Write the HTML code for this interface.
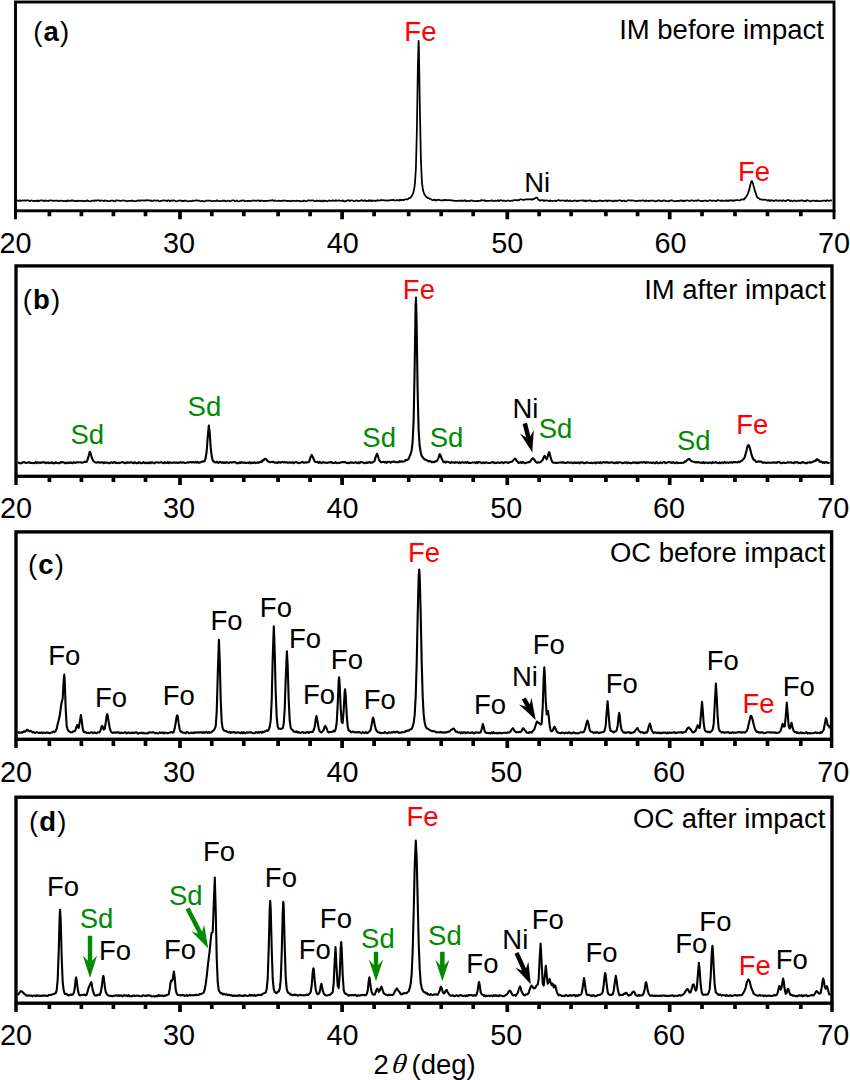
<!DOCTYPE html>
<html><head><meta charset="utf-8"><style>
html,body{margin:0;padding:0;background:#fff;overflow:hidden;}
svg{display:block}
text{font-family:"Liberation Sans",sans-serif;font-size:27.5px;}
</style></head><body>
<svg width="850" height="1080" viewBox="0 0 850 1080">

<g>
<path d="M16.9 200.6 L17.9 200.4 L18.9 201.0 L19.9 200.3 L20.9 200.8 L21.9 200.7 L22.9 200.3 L23.9 200.8 L24.9 200.3 L25.9 200.7 L26.9 200.3 L27.9 200.3 L28.9 200.7 L29.9 201.2 L30.9 200.4 L31.9 200.5 L33.0 200.9 L34.0 201.3 L35.0 200.9 L36.0 200.7 L37.0 201.3 L38.0 200.3 L39.0 201.2 L40.0 200.6 L41.0 200.4 L42.0 200.4 L43.0 200.6 L44.0 201.1 L45.0 200.4 L46.0 200.9 L47.0 201.0 L48.0 200.7 L49.0 200.9 L50.0 200.3 L51.0 200.3 L52.0 200.5 L53.0 201.0 L54.0 200.7 L55.0 200.6 L56.0 200.9 L57.0 200.7 L58.0 200.6 L59.0 201.1 L60.0 201.0 L61.0 200.5 L62.0 200.9 L63.0 200.8 L64.0 201.2 L65.0 201.1 L66.0 200.6 L67.0 201.3 L68.0 200.4 L69.0 200.7 L70.0 201.1 L71.0 200.4 L72.0 200.8 L73.0 200.3 L74.0 201.0 L75.0 201.1 L76.0 200.9 L77.0 201.2 L78.0 200.6 L79.0 201.0 L80.0 200.9 L81.0 200.9 L82.0 200.7 L83.0 201.2 L84.0 201.3 L85.0 200.8 L86.0 201.0 L87.0 200.3 L88.0 201.0 L89.0 201.0 L90.0 201.3 L91.0 201.2 L92.0 200.6 L93.0 200.7 L94.0 201.0 L95.0 200.3 L96.0 200.8 L97.0 200.4 L98.0 200.4 L99.0 200.3 L100.0 201.1 L101.0 200.4 L102.0 200.5 L103.0 200.7 L104.0 201.2 L105.0 200.3 L106.0 200.7 L107.0 200.9 L108.0 201.2 L109.0 201.1 L110.0 201.2 L111.0 200.6 L112.0 200.7 L113.0 200.6 L114.0 201.2 L115.0 201.3 L116.0 200.4 L117.0 200.4 L118.0 200.5 L119.0 200.5 L120.0 200.8 L121.0 200.9 L122.0 200.5 L123.0 200.3 L124.0 200.7 L125.0 200.7 L126.0 200.9 L127.0 201.3 L128.0 201.0 L128.9 200.8 L129.9 200.9 L130.9 201.0 L131.9 200.3 L132.9 201.2 L133.9 201.1 L134.9 201.2 L135.9 201.1 L136.9 200.7 L137.9 200.7 L138.9 200.4 L139.9 200.9 L140.9 200.3 L141.9 200.3 L142.9 200.5 L143.9 200.4 L144.9 200.6 L145.9 200.3 L146.9 200.2 L147.9 200.4 L148.9 200.4 L149.9 200.6 L150.9 200.3 L151.9 201.2 L152.9 200.9 L153.9 200.4 L154.9 200.5 L155.9 200.6 L156.9 200.6 L157.9 200.4 L158.9 201.2 L159.9 201.3 L160.9 200.8 L161.9 200.8 L162.9 200.3 L163.9 200.4 L164.9 200.6 L165.9 200.5 L166.9 201.2 L167.9 200.4 L168.9 200.3 L169.9 201.3 L170.9 200.8 L171.9 200.4 L172.9 200.8 L173.9 200.3 L174.9 200.8 L175.9 201.3 L176.9 201.2 L177.9 201.0 L178.9 200.5 L179.9 200.6 L180.9 200.4 L181.9 201.1 L182.9 200.8 L183.9 201.1 L184.9 200.6 L185.9 200.5 L186.9 201.1 L187.9 201.3 L188.9 201.2 L189.9 201.1 L190.9 201.1 L191.9 201.1 L192.9 200.5 L193.9 200.8 L194.9 200.6 L195.9 200.3 L196.9 200.3 L197.9 200.6 L198.9 200.5 L199.9 201.0 L200.9 201.3 L201.9 200.7 L202.9 201.3 L203.9 201.3 L204.9 201.3 L205.9 200.6 L206.9 200.5 L207.9 200.5 L208.9 200.5 L209.9 200.5 L210.9 200.9 L211.9 201.2 L212.9 201.2 L213.9 200.8 L214.9 201.0 L215.9 201.1 L216.9 200.3 L217.9 201.0 L218.9 201.2 L219.9 201.1 L220.9 201.1 L221.9 200.8 L222.9 200.4 L223.9 201.1 L224.9 200.6 L225.9 201.1 L226.9 201.3 L227.9 200.7 L228.9 200.7 L229.9 201.3 L230.9 201.0 L231.9 200.4 L232.9 200.4 L233.9 200.4 L234.9 201.2 L235.9 201.1 L236.9 200.4 L237.9 201.2 L238.9 201.3 L239.9 201.0 L240.9 200.6 L241.9 200.8 L242.9 200.4 L243.9 200.3 L244.9 201.3 L245.9 201.0 L246.9 200.8 L247.9 201.3 L248.9 200.7 L249.9 201.2 L250.9 201.1 L251.9 200.5 L252.9 200.5 L253.9 200.6 L254.9 200.5 L255.9 200.9 L256.9 200.5 L257.9 200.7 L258.9 200.4 L259.9 201.2 L260.9 200.6 L261.9 200.7 L262.9 200.9 L263.9 201.2 L264.9 200.7 L265.9 201.2 L266.9 200.8 L267.9 200.8 L268.9 200.8 L269.9 200.3 L270.9 200.7 L271.9 200.4 L272.9 200.2 L273.9 201.1 L274.9 200.4 L275.9 200.8 L276.9 201.0 L277.9 200.8 L278.9 200.6 L279.9 200.8 L280.9 200.8 L281.9 201.1 L282.9 200.4 L283.9 200.9 L284.9 200.5 L285.9 200.5 L286.9 201.1 L287.9 200.8 L288.9 200.9 L289.9 201.1 L290.9 201.2 L291.9 200.7 L292.9 200.9 L293.9 200.8 L294.9 200.8 L295.9 201.0 L296.9 200.7 L297.9 200.8 L298.9 200.8 L299.9 201.3 L300.9 201.0 L301.9 201.2 L302.9 201.3 L303.9 200.5 L304.9 200.8 L305.9 201.3 L306.9 201.2 L307.9 200.4 L308.9 200.4 L309.9 200.7 L310.9 200.3 L311.9 200.5 L312.9 200.3 L313.9 201.0 L314.9 201.1 L315.9 201.2 L316.9 200.4 L317.9 201.0 L318.9 201.0 L319.9 200.4 L320.9 201.2 L321.9 201.3 L322.9 200.5 L323.9 201.3 L324.9 200.7 L325.9 200.8 L326.9 201.3 L327.9 201.1 L328.9 200.4 L329.9 200.7 L330.9 200.8 L331.9 200.6 L332.9 200.4 L333.9 200.6 L334.9 201.0 L335.9 200.2 L336.9 200.8 L337.9 200.7 L338.9 200.2 L339.9 200.6 L340.9 200.9 L341.9 200.8 L342.9 200.3 L343.9 201.3 L344.9 201.1 L345.9 201.3 L346.9 200.3 L347.9 200.5 L348.9 200.2 L349.9 201.1 L350.9 200.5 L351.9 200.3 L352.9 200.7 L353.9 201.2 L354.9 201.1 L355.9 200.5 L356.9 200.3 L357.9 201.2 L358.9 200.8 L359.9 200.9 L360.9 200.3 L361.9 200.2 L362.9 200.9 L363.9 200.6 L364.9 200.2 L365.9 201.2 L366.9 200.9 L367.9 201.0 L368.9 200.2 L369.9 201.1 L370.9 200.2 L371.9 201.1 L372.9 200.6 L373.9 200.5 L374.9 200.7 L375.9 201.1 L376.9 200.4 L377.9 200.2 L378.9 200.7 L379.9 200.4 L380.9 200.2 L381.9 200.2 L382.9 200.1 L383.9 200.3 L384.9 200.4 L385.9 200.4 L386.9 200.8 L387.9 200.3 L388.9 200.5 L389.9 200.2 L390.9 200.3 L391.9 199.9 L392.9 200.2 L393.9 199.9 L394.9 200.6 L395.9 200.4 L396.9 200.0 L397.9 200.2 L398.9 200.7 L399.9 199.7 L400.9 200.4 L401.9 199.9 L402.9 199.8 L403.9 200.1 L404.9 199.4 L405.9 199.3 L406.9 199.3 L407.9 199.3 L408.9 198.1 L409.9 198.1 L410.9 197.1 L411.9 195.8 L412.9 193.7 L413.9 190.6 L414.9 184.1 L415.9 168.5 L416.9 129.0 L417.9 64.4 L418.6 40.8 L418.9 48.0 L419.9 111.0 L420.9 159.8 L421.9 181.8 L422.9 189.8 L423.9 193.3 L424.9 195.0 L425.9 196.3 L426.9 197.3 L427.9 198.1 L428.9 198.2 L429.9 198.9 L430.9 199.0 L431.9 200.0 L432.9 200.2 L433.9 199.8 L434.9 199.6 L435.9 200.5 L436.9 199.9 L437.9 200.0 L438.9 199.7 L439.9 200.1 L440.9 200.3 L441.9 200.4 L442.9 200.1 L443.9 200.4 L444.9 199.9 L445.9 200.2 L446.9 200.0 L447.9 200.4 L448.9 200.0 L449.9 200.0 L450.9 200.4 L451.9 200.3 L452.9 200.7 L453.9 200.6 L454.9 200.9 L455.9 200.8 L456.9 200.9 L457.9 201.1 L458.9 200.5 L459.9 200.5 L460.9 201.2 L461.9 200.3 L462.9 200.9 L463.9 200.8 L464.9 200.2 L465.9 201.1 L466.9 201.1 L467.9 200.8 L468.9 201.0 L469.9 201.0 L470.9 200.3 L471.9 200.7 L472.9 200.7 L473.9 201.1 L474.9 201.0 L475.9 201.1 L476.9 200.8 L477.9 201.1 L478.9 200.9 L479.9 200.9 L480.9 200.4 L481.9 200.2 L482.9 200.3 L483.9 200.6 L484.9 200.3 L485.9 201.1 L486.9 200.8 L487.9 200.9 L488.9 200.9 L489.9 200.9 L490.9 200.7 L491.9 200.2 L492.9 201.1 L493.9 201.0 L494.9 200.7 L495.9 200.8 L496.9 200.9 L497.9 200.2 L498.9 201.0 L499.9 200.4 L500.9 200.2 L501.9 200.5 L502.9 201.0 L503.9 200.4 L504.9 201.0 L505.9 201.2 L506.9 200.7 L507.9 200.5 L508.9 200.6 L509.9 200.8 L510.9 200.9 L511.9 200.7 L513.0 200.7 L514.0 200.0 L515.0 200.0 L516.0 200.1 L517.0 200.5 L518.0 200.0 L519.0 200.2 L520.0 199.4 L521.0 199.4 L522.0 199.5 L523.0 199.8 L524.0 199.8 L525.0 199.7 L526.0 199.2 L527.0 199.4 L528.0 199.4 L529.0 199.4 L530.0 199.4 L531.0 199.1 L532.0 199.9 L533.0 198.8 L534.0 199.1 L535.0 198.4 L535.9 197.6 L537.0 197.6 L538.0 199.0 L539.0 200.1 L540.0 200.7 L541.0 200.3 L542.0 200.2 L543.0 200.2 L544.0 201.1 L545.0 200.3 L546.0 200.7 L547.0 200.3 L548.0 200.7 L549.0 201.2 L550.0 200.3 L551.0 201.1 L552.0 200.7 L553.0 201.2 L554.0 201.0 L555.0 200.4 L556.0 201.2 L557.0 200.7 L558.0 200.2 L559.0 200.2 L560.0 200.7 L561.0 200.7 L562.0 200.5 L563.0 200.4 L564.0 200.6 L565.0 200.6 L566.0 201.1 L567.0 200.2 L568.0 201.0 L569.0 201.1 L570.0 200.3 L571.0 201.2 L572.0 201.0 L573.0 201.2 L574.0 200.5 L575.0 200.6 L576.0 200.7 L577.0 201.3 L578.0 200.9 L579.0 200.6 L580.0 200.7 L581.0 200.5 L582.0 200.3 L583.0 200.3 L584.0 201.1 L585.0 200.5 L586.0 201.3 L587.0 200.5 L588.0 200.5 L589.0 200.8 L590.0 200.4 L591.0 200.6 L592.0 201.3 L593.0 201.2 L594.0 201.1 L595.0 200.9 L596.0 201.2 L597.0 201.3 L598.0 200.8 L599.0 201.0 L600.0 200.3 L601.0 201.0 L602.0 200.7 L603.0 201.1 L604.0 200.9 L605.0 200.5 L606.0 200.3 L607.0 201.3 L608.0 200.4 L609.0 200.8 L610.0 200.6 L611.0 200.6 L612.0 201.0 L613.0 201.3 L614.0 200.5 L615.0 201.0 L616.0 200.6 L617.0 200.8 L618.0 200.7 L619.0 200.4 L620.0 200.4 L621.0 200.5 L622.0 201.2 L623.0 200.8 L624.0 200.5 L625.0 201.2 L626.0 201.3 L627.0 200.7 L628.0 200.4 L629.0 200.4 L630.0 200.3 L631.0 200.6 L632.0 200.3 L633.0 200.5 L634.0 200.5 L635.0 200.9 L636.0 201.2 L637.0 201.1 L638.0 200.7 L639.0 200.7 L640.0 200.8 L641.0 200.6 L642.0 200.6 L643.0 200.3 L644.0 200.5 L645.0 201.3 L646.0 200.4 L647.0 200.8 L648.0 200.9 L649.0 201.2 L650.0 200.5 L651.0 200.5 L652.0 200.5 L653.0 200.7 L654.0 200.7 L655.0 201.3 L656.0 201.2 L657.0 201.2 L658.0 200.3 L659.0 200.3 L660.0 201.0 L661.0 201.2 L662.0 200.8 L663.0 200.9 L664.0 200.2 L665.0 200.7 L666.0 201.2 L667.0 201.1 L668.0 201.2 L669.0 201.3 L670.0 200.5 L671.0 200.3 L672.0 200.4 L673.0 200.8 L674.0 201.0 L675.0 201.3 L676.0 201.0 L677.0 200.9 L678.0 201.1 L679.0 200.7 L680.0 200.8 L681.0 200.3 L682.0 201.1 L683.0 200.5 L684.0 201.2 L685.0 200.9 L686.0 200.6 L687.0 200.4 L688.0 200.5 L689.0 200.9 L690.0 201.0 L691.0 200.3 L692.0 200.3 L693.0 200.8 L694.0 200.9 L695.0 200.6 L696.0 200.5 L697.0 200.9 L698.0 200.2 L699.0 200.5 L700.0 200.7 L701.0 201.3 L702.0 200.9 L703.0 201.2 L704.0 200.7 L705.0 200.5 L706.0 200.5 L707.0 201.2 L708.0 201.0 L709.0 200.5 L710.0 200.2 L711.0 200.7 L712.0 200.9 L713.0 200.6 L714.0 200.5 L715.0 200.9 L716.0 201.2 L717.0 200.4 L718.0 200.2 L719.0 200.5 L720.0 200.6 L721.0 200.9 L722.0 200.3 L723.0 201.0 L724.0 200.9 L725.0 200.6 L726.0 200.3 L727.0 201.1 L728.0 200.4 L729.0 200.9 L730.0 200.3 L731.0 200.2 L732.0 200.8 L733.0 200.3 L734.0 200.9 L735.0 200.4 L736.0 200.0 L737.0 200.0 L738.0 200.1 L739.0 200.3 L740.0 200.5 L741.0 199.5 L742.0 199.6 L743.0 199.2 L744.0 199.6 L745.0 198.1 L746.0 197.1 L747.0 195.4 L748.0 193.3 L749.0 190.4 L750.0 186.2 L751.0 182.3 L751.8 180.8 L753.0 183.6 L754.0 187.5 L755.0 190.9 L756.0 193.9 L757.0 197.0 L758.0 198.2 L759.0 198.2 L760.0 199.4 L761.0 199.4 L762.0 199.6 L763.0 199.8 L764.0 199.7 L765.0 199.6 L766.0 200.0 L767.0 200.2 L768.0 200.9 L769.0 200.0 L770.0 201.0 L771.0 200.2 L772.0 200.4 L773.0 200.9 L774.0 200.9 L775.0 200.5 L776.0 200.1 L777.0 200.6 L778.0 200.5 L779.0 201.1 L780.0 200.3 L781.0 200.5 L782.0 201.1 L783.0 200.2 L784.0 200.6 L785.0 201.0 L786.0 201.0 L787.0 200.2 L788.0 200.2 L789.0 200.2 L790.0 201.2 L791.0 200.5 L792.0 201.0 L793.0 201.2 L794.0 200.6 L795.0 200.5 L796.0 201.2 L797.0 200.9 L798.0 200.5 L799.0 201.0 L800.0 200.5 L801.0 200.5 L802.0 200.2 L803.0 201.0 L804.0 201.2 L805.0 200.9 L806.0 201.2 L807.0 200.2 L808.0 200.5 L809.0 200.7 L810.0 201.3 L811.0 201.3 L812.0 200.6 L813.0 200.5 L814.0 200.7 L815.0 200.8 L816.0 201.2 L817.0 200.4 L818.0 201.1 L819.0 201.0 L820.0 201.1 L821.0 201.1 L822.0 200.9 L823.0 200.6 L824.0 200.6 L825.0 200.6 L826.0 201.1 L827.0 200.3 L828.0 200.4 L829.0 201.1 L830.0 200.5 L831.0 200.3 L832.0 200.3" fill="none" stroke="#000" stroke-width="1.75" stroke-linejoin="round"/>
<rect x="15.5" y="2.0" width="818.5" height="208.8" fill="none" stroke="#000" stroke-width="2.9"/>
<path d="M49.4 210.8V216.3M81.4 210.8V216.3M113.4 210.8V216.3M145.5 210.8V216.3M180.0 210.8V219.2M211.8 210.8V216.3M243.8 210.8V216.3M278.1 210.8V216.3M310.1 210.8V216.3M342.1 210.8V219.2M374.1 210.8V216.3M408.7 210.8V216.3M441.2 210.8V216.3M473.2 210.8V216.3M507.3 210.8V219.2M539.1 210.8V216.3M571.1 210.8V216.3M605.9 210.8V216.3M637.6 210.8V216.3M669.7 210.8V219.2M702.0 210.8V216.3M735.0 210.8V216.3M767.5 210.8V216.3M800.8 210.8V216.3" stroke="#000" stroke-width="3.7" fill="none"/>
<path d="M15.50 210.8V219.2M834.00 210.8V219.2" stroke="#000" stroke-width="2.9" fill="none"/>
<text transform="translate(15.6 252.7) scale(1 1.000)" text-anchor="middle" fill="#000" style="font-size:28.8px">20</text>
<text transform="translate(179.1 252.7) scale(1 1.000)" text-anchor="middle" fill="#000" style="font-size:28.8px">30</text>
<text transform="translate(342.7 252.7) scale(1 1.000)" text-anchor="middle" fill="#000" style="font-size:28.8px">40</text>
<text transform="translate(507.3 252.7) scale(1 1.000)" text-anchor="middle" fill="#000" style="font-size:28.8px">50</text>
<text transform="translate(670.4 252.7) scale(1 1.000)" text-anchor="middle" fill="#000" style="font-size:28.8px">60</text>
<text transform="translate(834.1 252.7) scale(1 1.000)" text-anchor="middle" fill="#000" style="font-size:28.8px">70</text>
<text transform="translate(51.1 41.1) scale(1 1.025)" text-anchor="middle" fill="#000">(<tspan dx="1.1" font-weight="bold">a</tspan><tspan dx="1.2">)</tspan></text>
<text transform="translate(420.4 40.8) scale(1 1.025)" fill="#ff0000" text-anchor="middle">Fe</text>
<text transform="translate(721.5 38.5) scale(1 1.025)" fill="#000" text-anchor="middle">IM before impact</text>
<text transform="translate(537.2 192.0) scale(1 1.025)" fill="#000" text-anchor="middle">Ni</text>
<text transform="translate(754.1 181.3) scale(1 1.025)" fill="#ff0000" text-anchor="middle">Fe</text>
</g>
<g>
<path d="M17.6 462.8 L18.6 462.5 L19.6 463.3 L20.6 463.2 L21.6 463.3 L22.6 462.4 L23.6 462.2 L24.6 462.2 L25.6 462.7 L26.6 463.0 L27.6 462.6 L28.6 462.3 L29.6 462.6 L30.6 462.9 L31.6 462.9 L32.6 463.0 L33.6 463.1 L34.6 462.9 L35.6 462.2 L36.6 463.1 L37.6 462.4 L38.6 462.8 L39.6 462.5 L40.6 463.0 L41.6 462.3 L42.6 462.4 L43.6 462.4 L44.6 462.2 L45.6 463.2 L46.6 462.8 L47.6 462.5 L48.6 462.6 L49.6 463.3 L50.6 462.7 L51.6 462.3 L52.6 463.1 L53.6 462.9 L54.6 463.3 L55.6 462.2 L56.6 462.7 L57.6 463.1 L58.6 463.1 L59.6 463.2 L60.6 462.1 L61.6 462.4 L62.6 462.2 L63.6 462.3 L64.7 463.3 L65.7 462.8 L66.7 463.2 L67.7 462.5 L68.7 463.1 L69.7 462.6 L70.7 462.4 L71.7 463.0 L72.7 463.2 L73.7 462.1 L74.7 462.8 L75.7 462.8 L76.7 462.3 L77.7 462.5 L78.7 462.2 L79.7 462.2 L80.7 462.3 L81.7 462.7 L82.7 462.7 L83.7 462.1 L84.7 461.7 L85.7 461.9 L86.7 461.8 L87.7 459.3 L88.7 455.8 L89.7 451.8 L90.0 451.8 L90.7 453.4 L91.7 457.4 L92.7 459.9 L93.7 461.3 L94.7 462.1 L95.7 462.5 L96.7 462.7 L97.7 462.0 L98.7 462.1 L99.7 462.8 L100.7 462.5 L101.7 462.3 L102.7 462.4 L103.7 463.2 L104.7 462.4 L105.7 462.7 L106.7 462.5 L107.7 462.6 L108.7 463.1 L109.7 463.3 L110.7 462.5 L111.7 462.3 L112.7 463.0 L113.7 462.3 L114.7 462.0 L115.7 463.2 L116.7 462.6 L117.7 463.1 L118.7 462.6 L119.7 463.2 L120.7 462.6 L121.7 462.2 L122.7 462.1 L123.7 462.7 L124.7 462.9 L125.7 463.2 L126.7 462.1 L127.7 462.8 L128.7 462.5 L129.7 462.7 L130.7 462.2 L131.7 462.4 L132.7 462.7 L133.7 463.2 L134.7 462.2 L135.7 462.7 L136.7 463.1 L137.7 463.3 L138.7 462.3 L139.7 462.2 L140.7 463.3 L141.7 463.3 L142.7 462.7 L143.7 462.1 L144.7 463.2 L145.7 462.5 L146.7 463.2 L147.7 462.8 L148.7 463.1 L149.7 462.2 L150.7 463.1 L151.7 462.3 L152.7 462.6 L153.7 463.1 L154.7 463.1 L155.7 462.3 L156.7 462.3 L157.7 462.5 L158.7 462.7 L159.7 462.5 L160.7 462.2 L161.7 462.3 L162.7 463.0 L163.7 463.2 L164.7 462.1 L165.7 462.8 L166.7 463.0 L167.7 462.1 L168.7 463.1 L169.7 462.2 L170.7 462.8 L171.7 462.7 L172.7 462.8 L173.7 462.4 L174.7 462.6 L175.7 462.8 L176.7 462.6 L177.7 462.9 L178.7 462.6 L179.7 462.6 L180.7 462.0 L181.7 462.8 L182.7 462.6 L183.7 462.3 L184.7 463.0 L185.7 463.0 L186.7 462.6 L187.7 462.2 L188.7 462.6 L189.7 462.1 L190.7 462.1 L191.7 462.5 L192.7 462.0 L193.7 462.5 L194.7 462.5 L195.7 461.9 L196.7 462.6 L197.7 461.9 L198.7 462.7 L199.7 462.6 L200.7 462.2 L201.7 461.5 L202.7 461.8 L203.7 461.3 L204.7 461.2 L205.7 457.6 L206.7 451.0 L207.7 437.4 L208.8 425.5 L209.7 432.7 L210.7 447.4 L211.7 456.1 L212.7 460.8 L213.7 461.3 L214.7 462.3 L215.7 462.5 L216.7 461.7 L217.7 462.6 L218.7 462.9 L219.7 461.8 L220.7 462.2 L221.7 462.8 L222.7 462.1 L223.7 463.0 L224.7 462.3 L225.7 463.0 L226.7 462.1 L227.7 462.6 L228.7 463.1 L229.7 462.2 L230.7 462.3 L231.7 462.6 L232.7 462.4 L233.7 462.0 L234.7 462.2 L235.7 462.2 L236.7 463.2 L237.7 462.9 L238.7 463.2 L239.7 462.2 L240.7 463.0 L241.7 462.1 L242.7 462.7 L243.7 462.8 L244.7 462.5 L245.7 463.1 L246.7 462.7 L247.7 462.7 L248.7 463.1 L249.7 462.1 L250.7 463.3 L251.7 462.8 L252.7 462.5 L253.7 463.0 L254.7 462.3 L255.7 463.2 L256.6 462.7 L257.6 462.4 L258.6 462.8 L259.6 462.3 L260.6 461.8 L261.6 462.1 L262.6 460.4 L263.6 460.4 L264.6 458.8 L265.4 458.8 L266.6 459.7 L267.6 461.2 L268.6 461.5 L269.6 462.2 L270.6 462.1 L271.6 461.8 L272.6 461.9 L273.6 462.1 L274.6 462.7 L275.6 462.5 L276.6 462.6 L277.6 463.1 L278.6 462.1 L279.6 462.3 L280.6 462.8 L281.6 462.0 L282.6 462.0 L283.6 462.5 L284.6 462.1 L285.6 462.5 L286.6 462.3 L287.6 462.8 L288.6 462.8 L289.6 462.3 L290.6 462.8 L291.6 462.6 L292.6 462.2 L293.6 463.2 L294.6 462.3 L295.6 462.2 L296.6 462.1 L297.6 462.8 L298.6 463.1 L299.6 463.0 L300.6 462.5 L301.6 462.3 L302.6 461.9 L303.6 462.7 L304.6 462.6 L305.6 462.3 L306.6 462.6 L307.6 462.2 L308.6 462.3 L309.6 460.4 L310.6 456.9 L311.8 454.8 L312.6 456.8 L313.6 458.7 L314.6 461.4 L315.6 462.0 L316.6 462.0 L317.6 461.9 L318.6 462.9 L319.6 461.9 L320.6 462.6 L321.6 463.2 L322.6 462.1 L323.6 462.2 L324.6 462.8 L325.6 462.6 L326.6 462.8 L327.6 463.0 L328.6 462.2 L329.6 462.4 L330.6 462.4 L331.6 462.0 L332.6 463.1 L333.6 463.0 L334.6 462.9 L335.6 462.0 L336.6 463.1 L337.6 463.0 L338.6 462.6 L339.6 463.0 L340.6 462.6 L341.6 462.3 L342.6 462.1 L343.6 462.3 L344.6 462.0 L345.6 462.4 L346.6 463.0 L347.6 462.9 L348.6 463.1 L349.6 462.9 L350.6 462.3 L351.6 462.7 L352.6 462.5 L353.6 463.0 L354.6 462.6 L355.6 462.3 L356.6 462.8 L357.6 463.2 L358.6 462.2 L359.6 463.1 L360.6 462.0 L361.6 462.3 L362.6 462.2 L363.6 462.9 L364.6 463.1 L365.6 462.9 L366.6 462.3 L367.6 463.0 L368.6 462.2 L369.6 462.1 L370.6 462.9 L371.6 462.5 L372.6 462.4 L373.6 461.9 L374.6 460.8 L375.6 457.1 L376.6 454.6 L377.0 453.8 L377.6 455.1 L378.6 458.6 L379.6 460.7 L380.6 462.1 L381.6 462.2 L382.6 462.0 L383.6 461.9 L384.6 462.5 L385.6 461.8 L386.6 462.9 L387.6 461.9 L388.6 461.7 L389.6 461.8 L390.6 462.8 L391.6 462.0 L392.6 461.7 L393.6 461.6 L394.6 461.5 L395.6 462.3 L396.6 462.2 L397.6 462.2 L398.6 462.2 L399.6 461.2 L400.6 461.8 L401.6 461.3 L402.6 461.7 L403.6 461.5 L404.6 461.3 L405.6 459.9 L406.6 460.4 L407.6 459.8 L408.6 458.9 L409.6 456.4 L410.6 454.3 L411.6 450.4 L412.6 442.1 L413.6 421.3 L414.6 370.8 L415.6 305.4 L416.0 297.5 L416.6 322.0 L417.6 389.2 L418.6 429.5 L419.6 445.5 L420.6 451.8 L421.6 455.8 L422.6 457.0 L423.6 458.4 L424.6 459.4 L425.6 459.5 L426.6 460.2 L427.6 460.6 L428.6 461.4 L429.6 461.1 L430.6 461.2 L431.6 462.2 L432.6 461.7 L433.6 462.2 L434.6 461.9 L435.6 461.1 L436.6 461.2 L437.6 459.9 L438.6 457.6 L439.6 454.3 L440.0 454.2 L440.6 455.4 L441.6 458.4 L442.6 460.3 L443.6 462.2 L444.6 461.5 L445.6 462.6 L446.6 461.8 L447.6 461.7 L448.6 462.0 L449.6 462.7 L450.6 463.0 L451.6 461.8 L452.6 462.5 L453.6 462.5 L454.6 462.9 L455.6 462.1 L456.6 462.5 L457.6 462.3 L458.6 463.0 L459.6 462.2 L460.6 463.1 L461.6 462.3 L462.6 462.2 L463.6 462.8 L464.6 462.6 L465.6 462.1 L466.6 462.8 L467.6 462.0 L468.6 463.0 L469.6 462.9 L470.6 463.0 L471.6 462.8 L472.6 462.4 L473.6 462.5 L474.6 462.5 L475.6 463.1 L476.6 462.1 L477.6 463.1 L478.6 462.0 L479.6 462.2 L480.6 462.3 L481.6 463.1 L482.6 462.6 L483.6 462.5 L484.6 463.1 L485.6 462.3 L486.6 462.6 L487.6 462.7 L488.6 463.0 L489.6 463.0 L490.6 462.8 L491.6 462.4 L492.6 462.4 L493.6 462.2 L494.6 463.1 L495.6 462.8 L496.6 463.0 L497.6 462.2 L498.6 462.6 L499.6 463.0 L500.6 462.7 L501.6 462.1 L502.6 462.6 L503.6 463.1 L504.6 462.3 L505.6 462.2 L506.6 462.3 L507.6 462.8 L508.6 463.0 L509.6 462.1 L510.6 462.0 L511.6 461.8 L512.6 461.1 L513.6 459.9 L514.8 458.6 L515.6 458.9 L516.6 460.7 L517.6 461.6 L518.6 463.0 L519.6 462.8 L520.6 462.0 L521.6 463.1 L522.6 462.0 L523.6 462.4 L524.6 463.2 L525.6 462.9 L526.6 462.8 L527.6 462.4 L528.6 462.0 L529.6 462.3 L530.6 460.8 L531.6 459.4 L532.9 458.3 L533.6 458.8 L534.6 460.0 L535.6 461.6 L536.6 462.6 L537.6 462.6 L538.6 462.3 L539.6 462.5 L540.6 462.1 L541.6 461.1 L542.6 460.1 L543.6 457.3 L544.6 455.9 L545.6 457.6 L546.6 459.3 L547.6 457.0 L548.6 453.2 L549.2 452.1 L549.6 453.2 L550.6 457.3 L551.6 460.4 L552.6 462.2 L553.6 462.7 L554.6 462.7 L555.6 462.7 L556.6 463.0 L557.6 462.8 L558.6 462.7 L559.6 462.5 L560.6 462.4 L561.6 462.8 L562.6 462.1 L563.6 462.5 L564.6 463.0 L565.6 462.9 L566.6 462.8 L567.6 462.3 L568.6 462.6 L569.6 462.6 L570.6 462.8 L571.6 462.5 L572.6 462.9 L573.6 463.2 L574.6 462.3 L575.6 462.9 L576.6 463.0 L577.6 462.5 L578.6 462.7 L579.6 463.3 L580.6 462.1 L581.6 462.7 L582.6 462.2 L583.6 463.0 L584.6 463.2 L585.6 462.7 L586.6 462.2 L587.6 462.8 L588.6 462.7 L589.6 463.0 L590.6 462.7 L591.6 462.9 L592.6 463.1 L593.6 462.7 L594.6 462.6 L595.6 463.3 L596.6 462.3 L597.6 462.9 L598.6 462.5 L599.6 463.0 L600.6 462.2 L601.6 463.3 L602.6 462.5 L603.6 462.1 L604.6 462.4 L605.6 462.6 L606.6 462.0 L607.6 462.6 L608.6 462.6 L609.6 462.9 L610.6 462.5 L611.6 462.4 L612.6 462.3 L613.6 463.0 L614.6 463.3 L615.6 462.7 L616.6 462.3 L617.6 463.1 L618.6 462.5 L619.6 462.3 L620.6 462.2 L621.6 463.0 L622.6 463.1 L623.6 462.9 L624.6 462.6 L625.6 462.8 L626.6 462.3 L627.6 463.3 L628.6 462.5 L629.6 462.9 L630.6 463.1 L631.6 463.1 L632.6 462.6 L633.6 462.4 L634.6 462.7 L635.6 462.2 L636.6 463.1 L637.6 462.5 L638.6 463.1 L639.6 462.4 L640.6 462.5 L641.6 462.4 L642.6 462.6 L643.6 462.3 L644.6 462.0 L645.6 463.0 L646.6 462.4 L647.6 462.3 L648.6 462.4 L649.6 462.7 L650.6 462.6 L651.6 462.9 L652.6 462.9 L653.6 462.5 L654.6 463.2 L655.6 463.1 L656.6 462.1 L657.6 463.1 L658.6 463.2 L659.6 463.0 L660.6 462.2 L661.6 463.1 L662.6 462.8 L663.6 462.0 L664.6 462.0 L665.6 463.3 L666.6 462.9 L667.6 462.3 L668.6 462.1 L669.6 462.2 L670.6 462.3 L671.6 463.0 L672.6 462.4 L673.6 462.2 L674.6 463.2 L675.6 463.0 L676.6 462.2 L677.6 463.1 L678.6 462.7 L679.6 463.0 L680.6 462.8 L681.6 463.0 L682.6 462.8 L683.6 462.8 L684.6 461.6 L685.6 461.7 L686.6 460.6 L687.6 459.8 L688.9 458.8 L689.6 459.0 L690.6 460.5 L691.6 461.1 L692.6 461.5 L693.6 461.8 L694.6 461.9 L695.6 462.5 L696.6 462.0 L697.6 462.5 L698.6 462.1 L699.6 462.6 L700.6 462.6 L701.6 462.7 L702.6 463.1 L703.6 462.0 L704.6 463.1 L705.6 462.6 L706.6 462.7 L707.6 462.8 L708.6 463.1 L709.6 462.5 L710.6 462.5 L711.6 463.2 L712.6 462.1 L713.6 462.8 L714.6 462.8 L715.6 462.0 L716.6 462.7 L717.6 462.8 L718.6 463.2 L719.6 462.4 L720.6 463.2 L721.6 462.6 L722.6 462.5 L723.6 463.1 L724.6 461.9 L725.6 462.8 L726.6 462.7 L727.6 462.3 L728.6 462.9 L729.6 462.3 L730.6 462.4 L731.6 462.4 L732.6 462.7 L733.6 461.9 L734.6 462.2 L735.6 462.1 L736.6 462.2 L737.6 462.4 L738.6 461.6 L739.6 462.1 L740.6 461.3 L741.6 461.0 L742.6 459.9 L743.6 459.0 L744.6 457.5 L745.6 454.0 L746.6 450.3 L747.6 446.1 L748.5 445.0 L749.6 447.0 L750.6 450.8 L751.6 454.9 L752.6 457.8 L753.6 459.8 L754.6 459.9 L755.6 461.4 L756.6 462.0 L757.6 461.8 L758.6 461.3 L759.6 461.8 L760.6 461.5 L761.6 461.8 L762.6 462.8 L763.6 462.5 L764.6 462.6 L765.6 462.8 L766.6 463.0 L767.6 462.6 L768.6 462.6 L769.6 462.7 L770.6 462.8 L771.6 462.7 L772.6 462.8 L773.6 462.2 L774.6 462.8 L775.6 462.5 L776.6 462.9 L777.6 462.1 L778.6 462.2 L779.6 462.0 L780.6 463.0 L781.6 463.2 L782.6 462.8 L783.6 462.5 L784.6 463.0 L785.6 463.0 L786.6 462.7 L787.6 462.3 L788.6 462.4 L789.6 462.5 L790.6 462.4 L791.6 462.6 L792.6 462.8 L793.6 463.2 L794.6 462.1 L795.6 462.7 L796.6 462.0 L797.6 462.2 L798.6 463.1 L799.6 462.7 L800.6 463.2 L801.6 462.6 L802.6 462.0 L803.6 462.5 L804.6 462.8 L805.6 463.2 L806.6 463.3 L807.6 462.6 L808.6 462.5 L809.6 462.1 L810.6 462.8 L811.6 462.2 L812.6 462.0 L813.6 461.5 L814.6 460.9 L815.6 460.9 L816.6 459.2 L817.3 459.4 L817.6 460.1 L818.6 459.8 L819.6 461.8 L820.6 461.6 L821.6 461.8 L822.6 462.8 L823.6 462.2 L824.6 462.9 L825.6 462.2 L826.6 462.0 L827.6 463.0 L828.6 462.9 L829.6 463.1" fill="none" stroke="#000" stroke-width="2.10" stroke-linejoin="round"/>
<rect x="16.0" y="265.9" width="816.0" height="210.4" fill="none" stroke="#000" stroke-width="3.3"/>
<path d="M49.4 476.3V482.0M81.4 476.3V482.0M113.4 476.3V482.0M145.5 476.3V482.0M180.0 476.3V484.9M211.8 476.3V482.0M243.8 476.3V482.0M278.1 476.3V482.0M310.1 476.3V482.0M342.1 476.3V484.9M374.1 476.3V482.0M408.7 476.3V482.0M441.2 476.3V482.0M473.2 476.3V482.0M507.3 476.3V484.9M539.1 476.3V482.0M571.1 476.3V482.0M605.9 476.3V482.0M637.6 476.3V482.0M669.7 476.3V484.9M702.0 476.3V482.0M735.0 476.3V482.0M767.5 476.3V482.0M800.8 476.3V482.0" stroke="#000" stroke-width="3.7" fill="none"/>
<path d="M16.00 476.3V484.9M832.00 476.3V484.9" stroke="#000" stroke-width="3.3" fill="none"/>
<text transform="translate(16.0 518.4) scale(1 1.000)" text-anchor="middle" fill="#000" style="font-size:28.8px">20</text>
<text transform="translate(179.1 518.4) scale(1 1.000)" text-anchor="middle" fill="#000" style="font-size:28.8px">30</text>
<text transform="translate(342.5 518.4) scale(1 1.000)" text-anchor="middle" fill="#000" style="font-size:28.8px">40</text>
<text transform="translate(506.3 518.4) scale(1 1.000)" text-anchor="middle" fill="#000" style="font-size:28.8px">50</text>
<text transform="translate(668.9 518.4) scale(1 1.000)" text-anchor="middle" fill="#000" style="font-size:28.8px">60</text>
<text transform="translate(833.3 518.4) scale(1 1.000)" text-anchor="middle" fill="#000" style="font-size:28.8px">70</text>
<text transform="translate(41.5 308.5) scale(1 1.025)" text-anchor="middle" fill="#000">(<tspan dx="1.1" font-weight="bold">b</tspan><tspan dx="1.2">)</tspan></text>
<text transform="translate(735.0 298.8) scale(1 1.025)" fill="#000" text-anchor="middle">IM after impact</text>
<text transform="translate(418.9 298.8) scale(1 1.025)" fill="#ff0000" text-anchor="middle">Fe</text>
<text transform="translate(87.2 443.5) scale(1 1.025)" fill="#008a00" text-anchor="middle">Sd</text>
<text transform="translate(204.4 415.5) scale(1 1.025)" fill="#008a00" text-anchor="middle">Sd</text>
<text transform="translate(379.1 446.5) scale(1 1.025)" fill="#008a00" text-anchor="middle">Sd</text>
<text transform="translate(446.5 446.5) scale(1 1.025)" fill="#008a00" text-anchor="middle">Sd</text>
<text transform="translate(525.5 418.0) scale(1 1.025)" fill="#000" text-anchor="middle">Ni</text>
<text transform="translate(555.5 438.2) scale(1 1.025)" fill="#008a00" text-anchor="middle">Sd</text>
<text transform="translate(693.8 449.9) scale(1 1.025)" fill="#008a00" text-anchor="middle">Sd</text>
<text transform="translate(752.2 433.8) scale(1 1.025)" fill="#ff0000" text-anchor="middle">Fe</text>
</g>
<g>
<path d="M17.7 733.1 L18.7 732.2 L19.7 732.8 L20.7 732.7 L21.7 732.2 L22.7 732.5 L23.7 731.3 L24.7 731.8 L25.7 731.1 L26.7 729.9 L27.4 730.5 L27.7 729.9 L28.7 730.9 L29.7 731.4 L30.7 730.8 L31.7 731.5 L32.7 732.4 L33.7 731.9 L34.7 733.0 L35.7 732.6 L36.7 732.1 L37.7 732.6 L38.7 732.9 L39.7 732.7 L40.7 733.0 L41.7 732.3 L42.7 733.2 L43.7 732.6 L44.7 732.9 L45.7 732.9 L46.7 732.6 L47.7 732.5 L48.7 733.0 L49.7 733.1 L50.7 732.9 L51.7 732.5 L52.7 732.0 L53.7 731.5 L54.7 732.2 L55.7 730.9 L56.7 728.6 L57.7 724.0 L58.5 721.0 L59.7 715.8 L60.7 708.4 L61.5 703.0 L62.7 698.4 L63.7 680.2 L64.3 674.6 L64.7 680.0 L65.7 708.9 L66.7 726.1 L67.7 729.7 L68.7 731.2 L69.7 731.6 L70.7 732.3 L71.7 732.4 L72.7 731.8 L73.7 731.3 L74.7 731.3 L75.7 729.6 L76.7 726.1 L77.2 725.0 L77.7 726.0 L78.7 727.9 L79.7 722.4 L80.9 715.0 L81.7 720.2 L82.7 728.6 L83.7 731.9 L84.7 732.2 L85.7 732.1 L86.7 733.0 L87.7 733.0 L88.7 732.9 L89.7 733.2 L90.7 732.5 L91.7 732.2 L92.7 732.8 L93.7 733.1 L94.7 732.3 L95.7 733.0 L96.7 733.2 L97.7 732.2 L98.7 732.5 L99.7 732.1 L100.7 729.8 L101.7 726.1 L102.1 725.9 L102.7 726.5 L103.7 729.6 L104.7 728.7 L105.7 723.0 L106.7 715.4 L107.3 714.1 L107.7 715.4 L108.7 722.1 L109.7 727.7 L110.7 731.1 L111.7 732.5 L112.7 732.9 L113.7 732.5 L114.7 732.6 L115.7 732.8 L116.7 732.3 L117.7 732.4 L118.7 732.4 L119.7 733.1 L120.7 732.7 L121.7 732.9 L122.7 732.7 L123.7 732.9 L124.7 732.4 L125.7 732.3 L126.7 733.5 L127.7 732.7 L128.7 732.4 L129.7 733.1 L130.7 733.3 L131.7 732.5 L132.7 733.0 L133.7 732.7 L134.7 732.9 L135.7 732.3 L136.7 732.3 L137.7 733.6 L138.7 733.4 L139.7 732.9 L140.7 733.0 L141.7 732.6 L142.7 733.3 L143.7 732.8 L144.7 733.5 L145.7 733.3 L146.7 733.3 L147.7 733.5 L148.7 732.6 L149.7 732.3 L150.7 732.5 L151.7 732.5 L152.7 732.4 L153.7 732.3 L154.7 733.0 L155.7 733.4 L156.7 732.9 L157.7 733.5 L158.7 733.4 L159.7 732.3 L160.7 733.0 L161.7 732.7 L162.7 732.4 L163.7 733.4 L164.7 732.5 L165.7 732.9 L166.7 733.0 L167.7 733.4 L168.7 732.9 L169.7 732.5 L170.7 732.5 L171.7 732.0 L172.7 732.8 L173.7 732.0 L174.7 728.4 L175.7 722.6 L176.7 716.2 L177.2 715.3 L177.7 716.3 L178.7 723.7 L179.7 729.3 L180.7 731.8 L181.7 731.5 L182.7 732.8 L183.7 732.8 L184.7 732.8 L185.7 733.3 L186.7 732.1 L187.7 732.3 L188.7 733.1 L189.7 733.3 L190.7 733.0 L191.7 732.5 L192.7 732.9 L193.7 733.1 L194.7 732.3 L195.7 732.6 L196.7 732.5 L197.7 732.3 L198.7 732.7 L199.7 732.3 L200.7 732.4 L201.7 732.2 L202.7 732.9 L203.7 732.0 L204.7 732.9 L205.7 732.2 L206.7 731.9 L207.7 733.0 L208.7 731.9 L209.7 732.7 L210.7 732.4 L211.7 732.2 L212.7 730.8 L213.7 730.5 L214.7 728.8 L215.7 726.1 L216.7 711.8 L217.7 676.6 L218.9 639.7 L219.7 659.1 L220.7 699.7 L221.7 722.2 L222.7 728.3 L223.7 730.4 L224.7 730.6 L225.7 731.2 L226.7 731.3 L227.7 732.3 L228.7 732.3 L229.7 731.9 L230.7 732.9 L231.7 732.2 L232.7 732.4 L233.7 732.1 L234.7 732.3 L235.7 733.1 L236.7 732.5 L237.7 732.3 L238.7 732.7 L239.7 732.5 L240.7 733.2 L241.7 732.2 L242.7 733.3 L243.7 732.1 L244.7 733.2 L245.7 732.9 L246.7 732.3 L247.7 732.7 L248.7 732.4 L249.7 732.4 L250.7 732.3 L251.7 732.5 L252.7 733.3 L253.7 733.3 L254.7 733.2 L255.7 732.1 L256.7 732.3 L257.7 733.0 L258.7 731.9 L259.7 732.7 L260.7 732.0 L261.7 732.8 L262.7 731.5 L263.7 732.3 L264.7 731.5 L265.7 731.0 L266.7 730.4 L267.7 730.9 L268.7 729.5 L269.7 727.0 L270.7 720.7 L271.7 700.4 L272.7 658.6 L273.8 626.4 L274.7 650.0 L275.7 692.4 L276.7 717.3 L277.7 726.5 L278.7 728.7 L279.7 728.8 L280.7 728.9 L281.7 728.6 L282.7 728.2 L283.7 723.8 L284.7 709.2 L285.7 679.2 L286.9 651.3 L287.7 666.2 L288.7 699.7 L289.7 720.6 L290.7 727.8 L291.7 729.5 L292.7 730.2 L293.7 731.6 L294.7 731.5 L295.7 732.1 L296.7 731.4 L297.7 732.6 L298.7 732.0 L299.7 732.8 L300.7 732.9 L301.7 732.4 L302.7 731.8 L303.7 733.0 L304.7 732.5 L305.7 733.0 L306.7 732.2 L307.7 732.1 L308.7 732.9 L309.7 732.2 L310.7 731.9 L311.7 732.0 L312.7 732.0 L313.7 730.0 L314.7 726.8 L315.7 719.3 L316.5 715.9 L317.7 722.5 L318.7 728.2 L319.7 731.5 L320.7 732.3 L321.7 732.4 L322.7 731.2 L323.7 729.9 L324.7 726.6 L325.3 725.9 L325.7 726.6 L326.7 728.5 L327.7 731.7 L328.7 732.5 L329.7 732.0 L330.7 732.0 L331.7 731.9 L332.7 731.7 L333.7 730.7 L334.7 731.4 L335.7 728.8 L336.7 722.6 L337.7 704.6 L338.7 680.6 L339.1 677.4 L339.7 684.9 L340.7 708.3 L341.7 722.3 L342.7 723.0 L343.7 709.7 L344.7 691.3 L345.1 689.4 L345.7 695.3 L346.7 714.8 L347.7 726.6 L348.7 730.5 L349.7 730.7 L350.7 732.2 L351.7 732.3 L352.7 731.6 L353.7 731.8 L354.7 732.4 L355.7 732.4 L356.7 732.2 L357.7 732.0 L358.7 732.4 L359.7 732.1 L360.7 732.7 L361.7 733.1 L362.7 732.1 L363.7 732.7 L364.7 732.9 L365.7 732.1 L366.7 732.9 L367.7 732.9 L368.7 731.9 L369.7 731.3 L370.7 729.6 L371.7 724.4 L372.7 718.5 L373.2 717.6 L373.7 719.2 L374.7 724.7 L375.7 729.0 L376.7 731.0 L377.7 731.9 L378.7 732.2 L379.7 733.0 L380.7 732.9 L381.7 733.1 L382.7 733.0 L383.7 733.0 L384.7 732.0 L385.7 732.6 L386.7 733.2 L387.7 733.1 L388.7 732.2 L389.7 732.5 L390.7 732.7 L391.7 732.3 L392.7 732.5 L393.7 731.9 L394.7 732.4 L395.7 732.4 L396.7 731.7 L397.7 731.8 L398.7 732.9 L399.7 732.5 L400.7 732.7 L401.7 732.2 L402.7 732.3 L403.7 732.3 L404.7 732.1 L405.7 730.8 L406.7 731.3 L407.7 730.5 L408.7 730.7 L409.7 729.6 L410.7 729.2 L411.7 728.7 L412.7 726.6 L413.7 722.7 L414.7 714.8 L415.7 696.1 L416.7 662.6 L417.7 614.8 L418.7 575.5 L419.2 569.5 L419.7 575.9 L420.7 614.6 L421.7 662.1 L422.7 696.8 L423.7 714.8 L424.7 722.7 L425.7 726.4 L426.7 728.2 L427.7 728.7 L428.7 729.4 L429.7 729.9 L430.7 730.6 L431.7 731.0 L432.7 731.1 L433.7 731.3 L434.7 731.2 L435.7 732.0 L436.7 732.4 L437.7 732.2 L438.7 732.3 L439.7 732.4 L440.7 731.9 L441.7 732.6 L442.7 732.3 L443.7 732.5 L444.7 732.6 L445.7 732.4 L446.7 732.1 L447.7 731.9 L448.7 731.6 L449.7 731.4 L450.7 730.3 L451.7 729.5 L452.9 728.8 L453.7 728.5 L454.7 729.9 L455.7 731.6 L456.7 731.5 L457.7 732.4 L458.7 732.5 L459.7 732.3 L460.7 733.3 L461.7 732.4 L462.7 733.1 L463.7 732.3 L464.7 732.2 L465.7 733.3 L466.7 732.7 L467.7 732.2 L468.7 732.7 L469.7 732.7 L470.7 733.1 L471.7 732.3 L472.7 732.4 L473.7 733.4 L474.7 733.1 L475.7 732.3 L476.7 732.5 L477.7 732.5 L478.7 732.9 L479.7 732.6 L480.7 732.2 L481.7 729.1 L482.9 724.1 L483.7 726.8 L484.7 731.3 L485.7 732.7 L486.7 733.0 L487.7 732.7 L488.7 733.1 L489.7 733.1 L490.7 733.4 L491.7 732.3 L492.7 733.3 L493.7 732.2 L494.7 733.2 L495.7 733.0 L496.7 732.9 L497.7 733.5 L498.7 732.9 L499.7 732.7 L500.7 733.2 L501.7 733.3 L502.7 733.0 L503.7 732.7 L504.7 732.8 L505.7 732.7 L506.7 733.1 L507.7 732.4 L508.7 732.5 L509.7 732.4 L510.7 731.3 L511.7 729.5 L512.9 728.2 L513.7 729.3 L514.7 731.2 L515.7 732.0 L516.7 732.4 L517.7 732.1 L518.7 732.3 L519.7 731.9 L520.7 732.0 L521.7 730.9 L522.7 728.4 L523.5 728.2 L524.7 730.2 L525.7 731.0 L526.7 732.6 L527.7 732.8 L528.7 733.0 L529.7 732.0 L530.7 732.2 L531.7 732.6 L532.7 731.1 L533.7 730.1 L534.7 728.5 L535.7 724.9 L536.9 721.5 L537.7 722.2 L538.7 723.1 L539.8 723.5 L540.7 724.7 L541.7 723.3 L542.7 707.4 L543.7 677.0 L544.3 667.4 L544.7 672.0 L545.7 700.4 L546.7 714.4 L548.0 711.1 L548.7 716.2 L549.7 725.7 L550.7 730.8 L551.7 731.3 L552.7 730.7 L553.7 727.8 L554.6 726.7 L555.7 729.1 L556.7 731.4 L557.7 732.4 L558.7 732.6 L559.7 733.1 L560.7 733.2 L561.7 732.7 L562.7 732.6 L563.7 732.9 L564.7 733.4 L565.7 732.6 L566.7 732.8 L567.7 733.2 L568.7 732.4 L569.7 732.6 L570.7 733.4 L571.7 733.2 L572.7 732.8 L573.7 732.3 L574.7 733.3 L575.7 733.0 L576.7 733.2 L577.7 733.4 L578.7 733.2 L579.7 732.6 L580.7 732.2 L581.7 732.3 L582.7 732.4 L583.7 732.0 L584.7 730.1 L585.7 726.6 L586.7 722.4 L587.4 720.6 L587.7 721.1 L588.7 724.9 L589.7 730.0 L590.7 731.7 L591.7 731.7 L592.7 732.4 L593.7 732.9 L594.7 732.4 L595.7 732.9 L596.7 732.0 L597.7 732.4 L598.7 733.1 L599.7 732.7 L600.7 732.7 L601.7 732.0 L602.7 732.2 L603.7 731.9 L604.7 730.4 L605.7 725.8 L606.7 711.5 L607.6 701.2 L608.7 715.5 L609.7 727.4 L610.7 730.9 L611.7 731.3 L612.7 731.6 L613.7 732.5 L614.7 731.6 L615.7 731.4 L616.7 730.2 L617.7 725.4 L618.7 715.7 L619.2 712.9 L619.7 715.4 L620.7 725.8 L621.7 730.2 L622.7 731.4 L623.7 732.7 L624.7 732.3 L625.7 732.9 L626.7 732.5 L627.7 732.3 L628.7 732.4 L629.7 732.2 L630.7 733.3 L631.7 732.8 L632.7 732.5 L633.7 732.4 L634.7 731.7 L635.7 729.8 L636.7 729.0 L637.3 728.0 L637.7 728.3 L638.7 730.6 L639.7 731.5 L640.7 732.5 L641.7 732.3 L642.7 732.1 L643.7 733.2 L644.7 733.1 L645.7 732.2 L646.7 732.6 L647.7 730.9 L648.7 726.5 L649.8 723.5 L650.7 726.0 L651.7 730.5 L652.7 731.9 L653.7 733.1 L654.7 732.3 L655.7 732.6 L656.7 733.1 L657.7 732.5 L658.7 732.6 L659.7 733.3 L660.7 732.8 L661.7 733.3 L662.7 732.6 L663.7 732.5 L664.7 732.7 L665.7 732.5 L666.7 733.5 L667.7 732.6 L668.7 733.0 L669.7 732.4 L670.7 732.9 L671.7 732.7 L672.7 732.8 L673.7 732.3 L674.7 732.4 L675.7 733.3 L676.7 732.7 L677.7 732.5 L678.7 732.4 L679.7 732.5 L680.7 732.4 L681.7 732.1 L682.7 732.9 L683.7 732.4 L684.7 731.8 L685.7 731.8 L686.7 729.7 L687.7 728.2 L688.8 727.4 L689.7 728.6 L690.7 729.3 L691.7 731.1 L692.7 732.3 L693.7 732.5 L694.7 731.5 L695.7 730.6 L696.7 728.0 L697.6 725.3 L698.7 727.4 L699.7 728.0 L700.7 717.7 L702.0 701.8 L702.7 709.1 L703.7 723.6 L704.7 729.7 L705.7 731.4 L706.7 731.4 L707.7 732.3 L708.7 731.7 L709.7 732.4 L710.7 731.8 L711.7 731.0 L712.7 729.5 L713.7 723.9 L714.7 705.1 L715.9 683.5 L716.7 696.0 L717.7 717.7 L718.7 728.4 L719.7 731.0 L720.7 731.4 L721.7 732.4 L722.7 732.1 L723.7 732.6 L724.7 732.6 L725.7 732.3 L726.7 732.5 L727.7 732.1 L728.7 732.3 L729.7 733.2 L730.7 732.5 L731.7 733.0 L732.7 732.2 L733.7 732.8 L734.7 732.6 L735.7 732.7 L736.7 732.5 L737.7 732.1 L738.7 732.4 L739.7 732.3 L740.7 732.1 L741.7 732.8 L742.7 732.2 L743.7 732.2 L744.7 732.6 L745.7 731.9 L746.7 731.0 L747.7 728.7 L748.7 724.1 L749.7 719.7 L750.7 715.8 L751.2 715.9 L751.7 716.7 L752.7 720.2 L753.7 724.4 L754.7 728.1 L755.7 730.7 L756.7 731.9 L757.7 731.8 L758.7 732.8 L759.7 732.3 L760.7 732.7 L761.7 732.2 L762.7 732.2 L763.7 733.2 L764.7 733.0 L765.7 733.0 L766.7 732.2 L767.7 732.2 L768.7 732.3 L769.7 732.4 L770.7 732.5 L771.7 732.6 L772.7 732.2 L773.7 732.5 L774.7 732.9 L775.7 732.3 L776.7 733.1 L777.7 732.7 L778.7 732.7 L779.7 731.8 L780.7 730.6 L781.7 727.0 L782.6 723.8 L783.7 726.5 L784.7 726.4 L785.7 717.0 L786.8 702.6 L787.7 713.7 L788.7 726.3 L789.7 728.5 L790.7 725.9 L791.5 722.8 L792.7 728.2 L793.7 730.9 L794.7 732.0 L795.7 732.0 L796.7 733.0 L797.7 732.3 L798.7 733.3 L799.7 733.1 L800.7 732.3 L801.7 733.1 L802.7 732.7 L803.7 733.2 L804.7 733.3 L805.7 732.6 L806.7 732.3 L807.7 733.5 L808.7 732.8 L809.7 733.4 L810.7 733.1 L811.7 733.2 L812.7 733.3 L813.7 733.0 L814.7 732.8 L815.7 732.3 L816.7 733.1 L817.7 732.7 L818.7 732.8 L819.7 733.2 L820.7 732.1 L821.7 732.7 L822.7 731.1 L823.7 729.8 L824.7 724.4 L825.9 718.1 L826.7 720.4 L827.7 725.2 L829.0 726.0 L829.7 728.4" fill="none" stroke="#000" stroke-width="2.10" stroke-linejoin="round"/>
<rect x="16.0" y="531.9" width="815.6" height="207.4" fill="none" stroke="#000" stroke-width="3.4"/>
<path d="M49.4 739.3V745.9M81.4 739.3V745.9M113.4 739.3V745.9M145.5 739.3V745.9M180.0 739.3V748.0M211.8 739.3V745.9M243.8 739.3V745.9M278.1 739.3V745.9M310.1 739.3V745.9M342.1 739.3V748.0M374.1 739.3V745.9M408.7 739.3V745.9M441.2 739.3V745.9M473.2 739.3V745.9M507.3 739.3V748.0M539.1 739.3V745.9M571.1 739.3V745.9M605.9 739.3V745.9M637.6 739.3V745.9M669.7 739.3V748.0M702.0 739.3V745.9M735.0 739.3V745.9M767.5 739.3V745.9M800.8 739.3V745.9" stroke="#000" stroke-width="3.7" fill="none"/>
<path d="M16.00 739.3V748.0M831.60 739.3V748.0" stroke="#000" stroke-width="3.4" fill="none"/>
<text transform="translate(16.0 781.5) scale(1 1.000)" text-anchor="middle" fill="#000" style="font-size:28.8px">20</text>
<text transform="translate(179.1 781.5) scale(1 1.000)" text-anchor="middle" fill="#000" style="font-size:28.8px">30</text>
<text transform="translate(342.5 781.5) scale(1 1.000)" text-anchor="middle" fill="#000" style="font-size:28.8px">40</text>
<text transform="translate(506.3 781.5) scale(1 1.000)" text-anchor="middle" fill="#000" style="font-size:28.8px">50</text>
<text transform="translate(668.9 781.5) scale(1 1.000)" text-anchor="middle" fill="#000" style="font-size:28.8px">60</text>
<text transform="translate(833.3 781.5) scale(1 1.000)" text-anchor="middle" fill="#000" style="font-size:28.8px">70</text>
<text transform="translate(45.9 573.6) scale(1 1.025)" text-anchor="middle" fill="#000">(<tspan dx="1.1" font-weight="bold">c</tspan><tspan dx="1.2">)</tspan></text>
<text transform="translate(717.6 561.7) scale(1 1.025)" fill="#000" text-anchor="middle">OC before impact</text>
<text transform="translate(64.3 665.0) scale(1 1.025)" fill="#000" text-anchor="middle">Fo</text>
<text transform="translate(111.1 706.8) scale(1 1.025)" fill="#000" text-anchor="middle">Fo</text>
<text transform="translate(178.8 704.8) scale(1 1.025)" fill="#000" text-anchor="middle">Fo</text>
<text transform="translate(226.5 630.1) scale(1 1.025)" fill="#000" text-anchor="middle">Fo</text>
<text transform="translate(275.9 617.2) scale(1 1.025)" fill="#000" text-anchor="middle">Fo</text>
<text transform="translate(305.1 647.8) scale(1 1.025)" fill="#000" text-anchor="middle">Fo</text>
<text transform="translate(319.1 704.3) scale(1 1.025)" fill="#000" text-anchor="middle">Fo</text>
<text transform="translate(346.9 669.4) scale(1 1.025)" fill="#000" text-anchor="middle">Fo</text>
<text transform="translate(379.8 709.4) scale(1 1.025)" fill="#000" text-anchor="middle">Fo</text>
<text transform="translate(424.1 561.7) scale(1 1.025)" fill="#ff0000" text-anchor="middle">Fe</text>
<text transform="translate(490.0 713.6) scale(1 1.025)" fill="#000" text-anchor="middle">Fo</text>
<text transform="translate(525.0 685.9) scale(1 1.025)" fill="#000" text-anchor="middle">Ni</text>
<text transform="translate(548.8 653.6) scale(1 1.025)" fill="#000" text-anchor="middle">Fo</text>
<text transform="translate(621.8 692.9) scale(1 1.025)" fill="#000" text-anchor="middle">Fo</text>
<text transform="translate(722.7 670.0) scale(1 1.025)" fill="#000" text-anchor="middle">Fo</text>
<text transform="translate(758.5 712.8) scale(1 1.025)" fill="#ff0000" text-anchor="middle">Fe</text>
<text transform="translate(798.8 695.9) scale(1 1.025)" fill="#000" text-anchor="middle">Fo</text>
</g>
<g>
<path d="M17.7 994.9 L18.7 993.9 L19.7 992.3 L20.7 991.1 L21.3 991.5 L21.7 991.4 L22.7 992.3 L23.7 993.2 L24.7 994.3 L25.7 994.7 L26.7 995.7 L27.7 995.8 L28.7 995.3 L29.7 995.4 L30.7 995.7 L31.7 995.6 L32.7 996.3 L33.7 995.5 L34.7 995.5 L35.7 996.2 L36.7 995.3 L37.7 995.8 L38.7 995.5 L39.7 996.1 L40.7 995.7 L41.7 996.0 L42.7 995.2 L43.7 995.8 L44.7 995.7 L45.7 995.5 L46.7 995.9 L47.7 995.9 L48.7 994.9 L49.7 995.0 L50.7 995.0 L51.7 994.6 L52.7 994.2 L53.7 994.1 L54.7 993.5 L55.7 993.1 L56.7 990.1 L57.7 979.3 L58.7 951.2 L59.7 914.8 L60.1 909.7 L60.7 920.4 L61.7 958.3 L62.7 982.5 L63.7 990.3 L64.7 993.7 L65.7 994.2 L66.7 993.8 L67.7 995.0 L68.7 995.5 L69.7 995.0 L70.7 994.5 L71.7 994.9 L72.7 994.6 L73.7 993.2 L74.7 988.8 L75.7 978.9 L76.2 977.4 L76.7 980.1 L77.7 989.0 L78.7 993.8 L79.7 995.4 L80.7 995.3 L81.7 994.9 L82.7 995.0 L83.7 994.8 L84.7 994.6 L85.7 995.4 L86.7 994.7 L87.7 991.2 L88.9 986.8 L89.7 985.4 L90.7 983.2 L91.3 982.1 L91.7 983.8 L92.7 990.1 L93.7 993.2 L94.7 995.2 L95.7 995.5 L96.7 995.5 L97.7 994.9 L98.7 994.6 L99.7 995.0 L100.7 992.5 L101.7 987.0 L102.7 978.5 L103.3 975.9 L103.7 976.9 L104.7 986.0 L105.7 991.8 L106.7 993.9 L107.7 995.2 L108.7 995.5 L109.7 995.9 L110.7 995.8 L111.7 996.1 L112.7 996.2 L113.7 995.7 L114.7 995.7 L115.7 995.3 L116.7 995.5 L117.7 995.9 L118.7 995.2 L119.7 996.0 L120.7 995.3 L121.7 995.7 L122.7 996.4 L123.7 995.3 L124.7 995.2 L125.7 995.7 L126.7 995.4 L127.7 996.1 L128.7 995.2 L129.7 996.2 L130.7 996.3 L131.7 996.2 L132.7 995.7 L133.7 995.5 L134.7 996.0 L135.7 995.8 L136.7 995.7 L137.7 995.6 L138.7 995.7 L139.7 996.0 L140.7 996.2 L141.7 996.3 L142.7 995.4 L143.7 995.5 L144.7 995.7 L145.7 995.9 L146.7 995.6 L147.7 995.4 L148.7 995.2 L149.7 995.6 L150.7 995.7 L151.7 996.4 L152.7 996.3 L153.7 996.2 L154.7 996.4 L155.7 996.3 L156.7 995.9 L157.7 996.1 L158.7 995.1 L159.7 995.9 L160.7 995.8 L161.7 995.4 L162.7 995.7 L163.7 996.1 L164.7 995.5 L165.7 995.6 L166.7 995.0 L167.7 994.7 L168.7 994.3 L169.7 988.9 L170.7 981.9 L171.1 980.7 L171.7 981.3 L172.7 979.3 L173.9 971.5 L174.7 977.7 L175.7 989.6 L176.7 993.6 L177.7 994.9 L178.7 995.0 L179.7 995.3 L180.7 995.4 L181.7 995.3 L182.7 995.0 L183.7 995.1 L184.7 996.0 L185.7 995.6 L186.7 995.0 L187.7 996.0 L188.7 995.2 L189.7 994.9 L190.7 995.5 L191.7 995.1 L192.7 995.3 L193.7 995.4 L194.7 994.9 L195.7 995.3 L196.7 994.6 L197.7 995.0 L198.7 994.9 L199.7 994.1 L200.7 994.3 L201.7 993.5 L202.7 993.3 L203.7 992.6 L204.7 989.4 L205.7 984.2 L206.7 976.6 L207.7 967.0 L208.5 960.0 L209.7 950.6 L210.7 939.9 L211.5 933.0 L212.7 932.0 L213.7 905.7 L214.8 877.6 L215.7 909.4 L216.7 957.7 L217.7 981.8 L218.7 990.1 L219.7 991.8 L220.7 993.2 L221.7 993.1 L222.7 994.4 L223.7 993.8 L224.7 994.3 L225.7 994.6 L226.7 994.3 L227.7 995.2 L228.7 994.8 L229.7 995.0 L230.7 995.5 L231.7 995.2 L232.7 995.9 L233.7 995.6 L234.7 995.9 L235.7 995.5 L236.7 996.0 L237.7 996.0 L238.7 995.1 L239.7 995.8 L240.7 995.3 L241.7 995.9 L242.7 995.8 L243.7 996.0 L244.7 995.1 L245.7 995.4 L246.7 995.8 L247.7 996.1 L248.7 995.8 L249.7 994.9 L250.7 995.6 L251.7 995.0 L252.7 995.5 L253.7 995.8 L254.7 994.9 L255.7 995.9 L256.7 995.5 L257.7 994.9 L258.7 994.7 L259.7 994.9 L260.7 995.3 L261.7 994.8 L262.7 993.9 L263.7 993.4 L264.7 992.9 L265.7 992.6 L266.7 988.9 L267.7 978.6 L268.7 948.9 L269.7 909.3 L270.2 900.9 L270.7 908.8 L271.7 948.5 L272.7 978.7 L273.7 988.9 L274.7 991.8 L275.7 992.8 L276.7 993.2 L277.7 991.8 L278.7 991.5 L279.7 988.9 L280.7 980.1 L281.7 953.8 L282.7 913.5 L283.3 901.9 L283.7 906.6 L284.7 945.2 L285.7 977.2 L286.7 989.0 L287.7 992.0 L288.7 993.3 L289.7 993.5 L290.7 994.8 L291.7 994.5 L292.7 995.3 L293.7 995.1 L294.7 994.5 L295.7 995.0 L296.7 994.9 L297.7 995.8 L298.7 995.4 L299.7 994.8 L300.7 994.9 L301.7 995.2 L302.7 995.3 L303.7 995.4 L304.7 995.2 L305.7 995.1 L306.7 994.5 L307.7 995.1 L308.7 994.5 L309.7 993.5 L310.7 991.9 L311.7 985.5 L312.7 972.2 L313.4 968.2 L313.7 968.7 L314.7 980.4 L315.7 989.5 L316.7 993.1 L317.7 994.2 L318.7 993.7 L319.7 991.9 L320.7 986.3 L321.4 983.8 L321.7 984.9 L322.7 990.6 L323.7 993.2 L324.7 994.8 L325.7 995.3 L326.7 995.5 L327.7 995.3 L328.7 995.0 L329.7 994.9 L330.7 994.2 L331.7 993.4 L332.7 992.1 L333.7 983.3 L334.7 960.7 L335.5 947.1 L336.7 970.0 L337.7 985.9 L338.7 988.1 L339.7 975.0 L340.7 948.3 L341.2 942.1 L341.7 948.7 L342.7 975.4 L343.7 989.9 L344.7 993.2 L345.7 993.6 L346.7 994.4 L347.7 994.7 L348.7 995.7 L349.7 995.2 L350.7 995.1 L351.7 995.0 L352.7 995.1 L353.7 995.3 L354.7 995.0 L355.7 994.9 L356.7 996.0 L357.7 995.5 L358.7 995.4 L359.7 995.6 L360.7 995.2 L361.7 995.0 L362.7 994.8 L363.7 995.1 L364.7 995.0 L365.7 995.2 L366.7 994.1 L367.7 990.8 L368.7 981.1 L369.4 977.4 L369.7 978.8 L370.7 987.2 L371.7 992.4 L372.7 994.1 L373.7 994.8 L374.7 994.7 L375.7 992.0 L376.7 989.7 L377.2 988.7 L377.7 989.1 L378.7 991.8 L379.7 990.5 L380.7 987.9 L381.4 986.6 L381.7 987.4 L382.7 990.2 L383.7 993.3 L384.7 994.1 L385.7 994.6 L386.7 994.8 L387.7 995.4 L388.7 994.8 L389.7 995.0 L390.7 994.7 L391.7 995.0 L392.7 995.0 L393.7 993.9 L394.7 991.7 L395.7 990.2 L396.9 988.3 L397.7 989.6 L398.7 991.1 L399.7 992.2 L400.7 994.1 L401.7 994.5 L402.7 993.8 L403.7 993.3 L404.7 993.1 L405.7 993.2 L406.7 993.1 L407.7 992.0 L408.7 991.2 L409.7 988.2 L410.7 983.8 L411.7 973.3 L412.7 950.0 L413.7 911.3 L414.7 866.6 L415.8 840.6 L416.7 858.4 L417.7 901.8 L418.7 943.2 L419.7 968.9 L420.7 982.7 L421.7 987.8 L422.7 990.4 L423.7 991.8 L424.7 992.2 L425.7 993.1 L426.7 992.9 L427.7 994.5 L428.7 994.3 L429.7 995.0 L430.7 994.0 L431.7 994.8 L432.7 995.1 L433.7 994.6 L434.7 994.4 L435.7 994.5 L436.7 994.4 L437.7 994.9 L438.7 992.9 L439.7 990.8 L440.7 986.8 L441.0 986.6 L441.7 988.1 L442.7 991.8 L443.7 993.4 L444.7 992.8 L445.7 990.8 L446.4 990.1 L446.7 990.0 L447.7 992.4 L448.7 993.7 L449.7 995.2 L450.7 995.6 L451.7 995.8 L452.7 995.2 L453.7 995.9 L454.7 996.2 L455.7 995.5 L456.7 995.3 L457.7 995.7 L458.7 996.2 L459.7 995.2 L460.7 995.0 L461.7 995.6 L462.7 995.9 L463.7 996.0 L464.7 995.5 L465.7 996.3 L466.7 995.3 L467.7 996.0 L468.7 995.1 L469.7 995.1 L470.7 995.2 L471.7 995.1 L472.7 995.6 L473.7 995.6 L474.7 995.0 L475.7 995.8 L476.7 994.3 L477.7 990.2 L478.7 982.8 L479.1 982.0 L479.7 984.9 L480.7 992.4 L481.7 994.3 L482.7 994.7 L483.7 995.9 L484.7 995.2 L485.7 996.3 L486.7 995.7 L487.7 995.9 L488.7 995.5 L489.7 996.1 L490.7 995.7 L491.7 995.5 L492.7 996.3 L493.7 995.2 L494.7 996.0 L495.7 995.2 L496.7 995.9 L497.7 995.6 L498.7 996.2 L499.7 995.1 L500.7 995.8 L501.7 995.6 L502.7 996.2 L503.7 996.2 L504.7 995.7 L505.7 995.0 L506.7 994.6 L507.7 993.3 L508.7 991.5 L509.6 990.5 L510.7 991.6 L511.7 993.5 L512.7 995.2 L513.7 995.4 L514.7 995.0 L515.7 995.8 L516.7 994.2 L517.7 993.1 L518.7 989.4 L520.0 986.5 L520.7 988.1 L521.7 991.7 L522.7 993.4 L523.7 995.0 L524.7 995.4 L525.7 994.6 L526.7 994.5 L527.7 994.0 L528.7 993.0 L529.7 989.3 L530.7 987.0 L531.5 985.5 L532.7 987.0 L533.7 988.4 L534.7 988.3 L535.7 987.0 L536.5 985.5 L537.7 984.6 L538.7 978.7 L539.7 957.5 L540.6 943.6 L541.7 964.0 L542.7 983.3 L543.7 985.6 L544.7 977.0 L545.8 965.8 L546.7 974.5 L547.7 983.8 L548.7 982.2 L549.6 979.0 L550.7 983.0 L551.7 985.1 L552.4 983.6 L552.7 983.5 L553.7 987.5 L554.7 985.4 L555.2 985.5 L555.7 987.2 L556.7 991.3 L557.7 993.9 L558.7 995.3 L559.7 994.7 L560.7 995.2 L561.7 996.0 L562.7 995.8 L563.7 996.0 L564.7 996.2 L565.7 995.0 L566.7 995.3 L567.7 996.0 L568.7 995.9 L569.7 995.1 L570.7 995.7 L571.7 995.3 L572.7 995.6 L573.7 995.1 L574.7 995.0 L575.7 996.3 L576.7 995.3 L577.7 996.0 L578.7 994.9 L579.7 995.3 L580.7 994.5 L581.7 993.3 L582.7 987.1 L584.0 978.0 L584.7 982.1 L585.7 990.1 L586.7 994.6 L587.7 995.1 L588.7 994.8 L589.7 995.3 L590.7 995.5 L591.7 996.1 L592.7 995.4 L593.7 995.2 L594.7 996.2 L595.7 996.1 L596.7 995.8 L597.7 995.2 L598.7 995.0 L599.7 994.9 L600.7 994.4 L601.7 993.8 L602.7 992.0 L603.7 984.9 L604.7 975.2 L605.2 973.1 L605.7 975.0 L606.7 984.3 L607.7 992.1 L608.7 994.4 L609.7 994.8 L610.7 994.9 L611.7 994.9 L612.7 994.4 L613.7 991.0 L614.7 983.0 L615.8 975.9 L616.7 980.8 L617.7 989.1 L618.7 993.5 L619.7 995.4 L620.7 994.9 L621.7 995.0 L622.7 994.9 L623.7 993.9 L624.7 994.0 L625.6 992.8 L626.7 993.0 L627.7 994.8 L628.7 995.7 L629.7 994.9 L630.7 995.0 L631.7 993.6 L632.7 991.9 L633.4 991.7 L633.7 991.4 L634.7 992.7 L635.7 995.0 L636.7 995.6 L637.7 996.0 L638.7 994.9 L639.7 995.7 L640.7 995.2 L641.7 995.5 L642.7 994.9 L643.7 993.0 L644.7 989.4 L645.7 982.4 L646.1 982.2 L646.7 984.2 L647.7 990.4 L648.7 993.8 L649.7 995.2 L650.7 996.0 L651.7 995.2 L652.7 995.8 L653.7 996.0 L654.7 995.5 L655.7 996.0 L656.7 995.6 L657.7 995.8 L658.7 995.9 L659.7 996.0 L660.7 995.5 L661.7 995.9 L662.7 995.8 L663.7 995.4 L664.7 995.9 L665.7 995.5 L666.7 996.3 L667.7 995.7 L668.7 996.0 L669.7 995.8 L670.7 995.7 L671.7 995.4 L672.7 995.2 L673.7 996.3 L674.7 995.7 L675.7 995.7 L676.7 995.7 L677.7 996.0 L678.7 995.2 L679.7 995.1 L680.7 995.8 L681.7 995.1 L682.7 994.8 L683.7 994.0 L684.7 992.6 L685.7 990.9 L686.9 989.3 L687.7 989.1 L688.7 990.9 L689.7 992.6 L690.7 992.3 L691.7 988.8 L692.7 985.0 L693.3 984.4 L693.7 984.5 L694.7 987.8 L695.7 990.7 L696.7 989.0 L697.7 977.1 L698.9 962.8 L699.7 970.7 L700.7 985.2 L701.7 992.3 L702.7 994.7 L703.7 994.7 L704.7 994.5 L705.7 994.6 L706.7 994.8 L707.7 994.4 L708.7 992.5 L709.7 989.2 L710.7 976.0 L711.7 954.1 L712.4 945.8 L712.7 947.2 L713.7 967.6 L714.7 985.2 L715.7 992.0 L716.7 993.3 L717.7 994.2 L718.7 995.0 L719.7 994.5 L720.7 994.8 L721.7 995.6 L722.7 995.1 L723.7 995.2 L724.7 995.2 L725.7 996.0 L726.7 995.0 L727.7 995.8 L728.7 996.1 L729.7 995.2 L730.7 995.5 L731.7 996.0 L732.7 995.7 L733.7 995.4 L734.7 994.9 L735.7 995.4 L736.7 995.3 L737.7 995.7 L738.7 995.1 L739.7 995.1 L740.7 995.2 L741.7 995.1 L742.7 993.8 L743.7 992.4 L744.7 990.4 L745.7 987.5 L746.7 982.8 L747.7 980.8 L748.4 979.4 L748.7 979.8 L749.7 981.6 L750.7 985.7 L751.7 988.9 L752.7 991.2 L753.7 993.9 L754.7 994.3 L755.7 995.0 L756.7 995.2 L757.7 995.8 L758.7 995.7 L759.7 994.9 L760.7 995.6 L761.7 995.5 L762.7 995.5 L763.7 996.1 L764.7 995.5 L765.7 995.6 L766.7 996.2 L767.7 995.6 L768.7 995.6 L769.7 995.7 L770.7 996.1 L771.7 995.8 L772.7 995.9 L773.7 995.4 L774.7 994.8 L775.7 995.5 L776.7 994.8 L777.7 992.8 L778.7 988.1 L779.3 986.1 L779.7 986.2 L780.7 989.6 L781.7 987.1 L782.7 980.3 L783.1 978.6 L783.7 980.9 L784.7 989.3 L785.7 993.8 L786.7 992.7 L787.7 989.0 L788.2 988.9 L788.7 990.0 L789.7 993.4 L790.7 994.9 L791.7 994.8 L792.7 995.8 L793.7 995.5 L794.7 995.8 L795.7 996.3 L796.7 996.1 L797.7 996.2 L798.7 995.3 L799.7 995.5 L800.7 995.8 L801.7 995.1 L802.7 996.4 L803.7 995.5 L804.7 995.4 L805.7 995.5 L806.7 995.4 L807.7 996.2 L808.7 995.8 L809.7 995.7 L810.7 995.5 L811.7 995.0 L812.7 995.1 L813.7 995.4 L814.7 994.0 L815.7 992.3 L816.5 991.0 L817.7 992.0 L818.7 993.4 L819.7 993.6 L820.7 992.8 L821.7 987.4 L822.7 980.1 L823.2 978.6 L823.7 980.0 L824.7 986.7 L825.7 988.7 L827.0 986.1 L827.7 988.7 L828.7 992.5 L829.7 995.4" fill="none" stroke="#000" stroke-width="2.10" stroke-linejoin="round"/>
<rect x="16.0" y="797.2" width="816.0" height="206.0" fill="none" stroke="#000" stroke-width="3.4"/>
<path d="M49.4 1003.2V1008.9M81.4 1003.2V1008.9M113.4 1003.2V1008.9M145.5 1003.2V1008.9M180.0 1003.2V1011.9M211.8 1003.2V1008.9M243.8 1003.2V1008.9M278.1 1003.2V1008.9M310.1 1003.2V1008.9M342.1 1003.2V1011.9M374.1 1003.2V1008.9M408.7 1003.2V1008.9M441.2 1003.2V1008.9M473.2 1003.2V1008.9M507.3 1003.2V1011.9M539.1 1003.2V1008.9M571.1 1003.2V1008.9M605.9 1003.2V1008.9M637.6 1003.2V1008.9M669.7 1003.2V1011.9M702.0 1003.2V1008.9M735.0 1003.2V1008.9M767.5 1003.2V1008.9M800.8 1003.2V1008.9" stroke="#000" stroke-width="3.7" fill="none"/>
<path d="M16.00 1003.2V1011.9M832.00 1003.2V1011.9" stroke="#000" stroke-width="3.4" fill="none"/>
<text transform="translate(16.0 1045.3) scale(1 1.000)" text-anchor="middle" fill="#000" style="font-size:28.8px">20</text>
<text transform="translate(179.1 1045.3) scale(1 1.000)" text-anchor="middle" fill="#000" style="font-size:28.8px">30</text>
<text transform="translate(342.5 1045.3) scale(1 1.000)" text-anchor="middle" fill="#000" style="font-size:28.8px">40</text>
<text transform="translate(506.3 1045.3) scale(1 1.000)" text-anchor="middle" fill="#000" style="font-size:28.8px">50</text>
<text transform="translate(668.9 1045.3) scale(1 1.000)" text-anchor="middle" fill="#000" style="font-size:28.8px">60</text>
<text transform="translate(833.3 1045.3) scale(1 1.000)" text-anchor="middle" fill="#000" style="font-size:28.8px">70</text>
<text transform="translate(47.7 831.4) scale(1 1.025)" text-anchor="middle" fill="#000">(<tspan dx="1.1" font-weight="bold">d</tspan><tspan dx="1.2">)</tspan></text>
<text transform="translate(729.1 828.2) scale(1 1.025)" fill="#000" text-anchor="middle">OC after impact</text>
<text transform="translate(63.1 896.2) scale(1 1.025)" fill="#000" text-anchor="middle">Fo</text>
<text transform="translate(96.5 927.5) scale(1 1.025)" fill="#008a00" text-anchor="middle">Sd</text>
<text transform="translate(115.0 959.7) scale(1 1.025)" fill="#000" text-anchor="middle">Fo</text>
<text transform="translate(180.0 958.8) scale(1 1.025)" fill="#000" text-anchor="middle">Fo</text>
<text transform="translate(185.7 905.4) scale(1 1.025)" fill="#008a00" text-anchor="middle">Sd</text>
<text transform="translate(219.1 861.1) scale(1 1.025)" fill="#000" text-anchor="middle">Fo</text>
<text transform="translate(280.9 886.9) scale(1 1.025)" fill="#000" text-anchor="middle">Fo</text>
<text transform="translate(314.7 959.4) scale(1 1.025)" fill="#000" text-anchor="middle">Fo</text>
<text transform="translate(335.9 927.7) scale(1 1.025)" fill="#000" text-anchor="middle">Fo</text>
<text transform="translate(377.9 948.2) scale(1 1.025)" fill="#008a00" text-anchor="middle">Sd</text>
<text transform="translate(422.5 825.7) scale(1 1.025)" fill="#ff0000" text-anchor="middle">Fe</text>
<text transform="translate(444.9 945.2) scale(1 1.025)" fill="#008a00" text-anchor="middle">Sd</text>
<text transform="translate(482.4 972.9) scale(1 1.025)" fill="#000" text-anchor="middle">Fo</text>
<text transform="translate(515.3 948.7) scale(1 1.025)" fill="#000" text-anchor="middle">Ni</text>
<text transform="translate(547.8 928.9) scale(1 1.025)" fill="#000" text-anchor="middle">Fo</text>
<text transform="translate(601.5 961.9) scale(1 1.025)" fill="#000" text-anchor="middle">Fo</text>
<text transform="translate(691.2 952.5) scale(1 1.025)" fill="#000" text-anchor="middle">Fo</text>
<text transform="translate(715.4 930.6) scale(1 1.025)" fill="#000" text-anchor="middle">Fo</text>
<text transform="translate(754.7 975.3) scale(1 1.025)" fill="#ff0000" text-anchor="middle">Fe</text>
<text transform="translate(791.8 968.9) scale(1 1.025)" fill="#000" text-anchor="middle">Fo</text>
</g>
<polygon points="527.0,422.8 530.4,436.3 533.8,430.0 532.3,452.6 520.1,433.5 526.1,437.4 522.6,424.0" fill="#000"/>
<polygon points="525.8,697.4 529.8,704.6 531.5,697.8 535.7,720.0 519.1,704.6 525.8,706.8 521.8,699.6" fill="#000"/>
<polygon points="518.5,952.0 526.1,968.5 528.4,961.8 530.8,984.3 515.4,967.7 522.0,970.4 514.5,953.8" fill="#000"/>
<polygon points="92.2,935.7 92.2,960.7 97.1,955.5 90.0,978.0 82.9,955.5 87.8,960.7 87.8,935.7" fill="#008a00"/>
<polygon points="189.6,907.4 202.1,931.7 204.1,924.8 208.3,948.5 191.4,931.3 198.1,933.7 185.6,909.4" fill="#008a00"/>
<polygon points="378.2,951.8 378.2,964.9 383.1,959.7 376.0,981.2 368.9,959.7 373.8,964.9 373.8,951.8" fill="#008a00"/>
<polygon points="444.6,951.8 444.6,964.9 449.5,959.7 442.4,981.2 435.3,959.7 440.1,964.9 440.1,951.8" fill="#008a00"/>
<text transform="translate(373.60 1073.6) scale(1 1.025)" fill="#000">2</text>
<text transform="translate(389.90 1073.2) skewX(-17) scale(1.08 1.0)" fill="#000" style="font-family:'Liberation Serif',serif">θ</text>
<text transform="translate(411.50 1073.6) scale(1 1.025)" fill="#000">(deg)</text>
</svg></body></html>
